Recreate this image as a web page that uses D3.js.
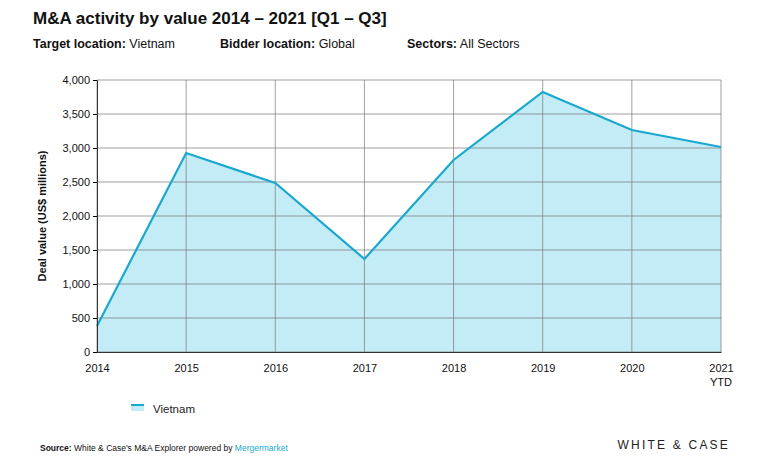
<!DOCTYPE html>
<html><head><meta charset="utf-8">
<script src="https://cdn.jsdelivr.net/npm/d3@7/dist/d3.min.js"></script>
<style>body{margin:0;background:#fff;font-family:"Liberation Sans",Arial,sans-serif;}</style>
</head><body><svg id="c" width="762" height="461"></svg>
<script>
const years = ["2014","2015","2016","2017","2018","2019","2020","2021"];
const values = [382, 2926, 2485, 1368, 2824, 3824, 3265, 3015];
const yTicks = [0,500,1000,1500,2000,2500,3000,3500,4000];

const svg = d3.select("#c");
const L=97,R=721,T=80,B=352;
const x = d3.scalePoint().domain(years).range([L,R]);
const y = d3.scaleLinear().domain([0,4000]).range([B,T]);
const col="#1aa8cf", fill="#c3ecf6";

svg.append("text").attr("x",33).attr("y",24).attr("font-size",17).attr("font-weight","bold").attr("fill","#111").text("M&A activity by value 2014 – 2021 [Q1 – Q3]");
const sub=[["Target location:"," Vietnam",33],["Bidder location:"," Global",220],["Sectors:"," All Sectors",407]];
sub.forEach(s=>{const t=svg.append("text").attr("x",s[2]).attr("y",48).attr("font-size",12.5).attr("fill","#111");
 t.append("tspan").attr("font-weight","bold").text(s[0]); t.append("tspan").text(s[1]);});

svg.append("path").attr("d",d3.area().x((d,i)=>x(years[i])).y0(B).y1(d=>y(d))(values)).attr("fill",fill);
// grid
yTicks.forEach(v=>svg.append("line").attr("x1",L).attr("x2",R).attr("y1",y(v)).attr("y2",y(v)).attr("stroke","#777").attr("stroke-width",0.7));
years.forEach(v=>svg.append("line").attr("x1",x(v)).attr("x2",x(v)).attr("y1",T).attr("y2",B).attr("stroke","#777").attr("stroke-width",0.7));
svg.append("path").attr("d",d3.line().x((d,i)=>x(years[i])).y(d=>y(d))(values)).attr("fill","none").attr("stroke",col).attr("stroke-width",2.2);

const ya=svg.append("g").attr("transform",`translate(${L},0)`).call(d3.axisLeft(y).tickValues(yTicks).tickFormat(d3.format(",")).tickSize(4));
ya.select(".domain").attr("stroke","#333");
ya.selectAll("text").attr("font-size",11).attr("fill","#111").attr("font-family","Liberation Sans, Arial");
const xa=svg.append("g").attr("transform",`translate(0,${B})`).call(d3.axisBottom(x).tickSize(0).tickPadding(12));
xa.select(".domain").attr("stroke","#333");
xa.selectAll("text").attr("font-size",11).attr("fill","#111").attr("font-family","Liberation Sans, Arial");
svg.append("text").attr("x",R).attr("y",386).attr("text-anchor","middle").attr("font-size",11).attr("fill","#111").text("YTD");

svg.append("text").attr("transform","translate(46,216) rotate(-90)").attr("text-anchor","middle").attr("font-size",11).attr("font-weight","bold").attr("fill","#111").text("Deal value (US$ millions)");

svg.append("rect").attr("x",131).attr("y",404).attr("width",13).attr("height",7).attr("fill",fill).attr("stroke",col).attr("stroke-width",0);
svg.append("rect").attr("x",131).attr("y",404).attr("width",13).attr("height",2).attr("fill",col);
svg.append("text").attr("x",153).attr("y",413).attr("font-size",11.5).attr("fill","#222").text("Vietnam");

const f=svg.append("text").attr("x",40).attr("y",451).attr("font-size",8.5).attr("fill","#111");
f.append("tspan").attr("font-weight","bold").text("Source:");
f.append("tspan").text(" White & Case's M&A Explorer powered by ");
f.append("tspan").attr("fill","#1aa8cf").text("Mergermarket");
svg.append("text").attr("x",730).attr("y",449).attr("text-anchor","end").attr("font-size",12).attr("letter-spacing",2.2).attr("fill","#222").text("WHITE & CASE");
</script></body></html>
